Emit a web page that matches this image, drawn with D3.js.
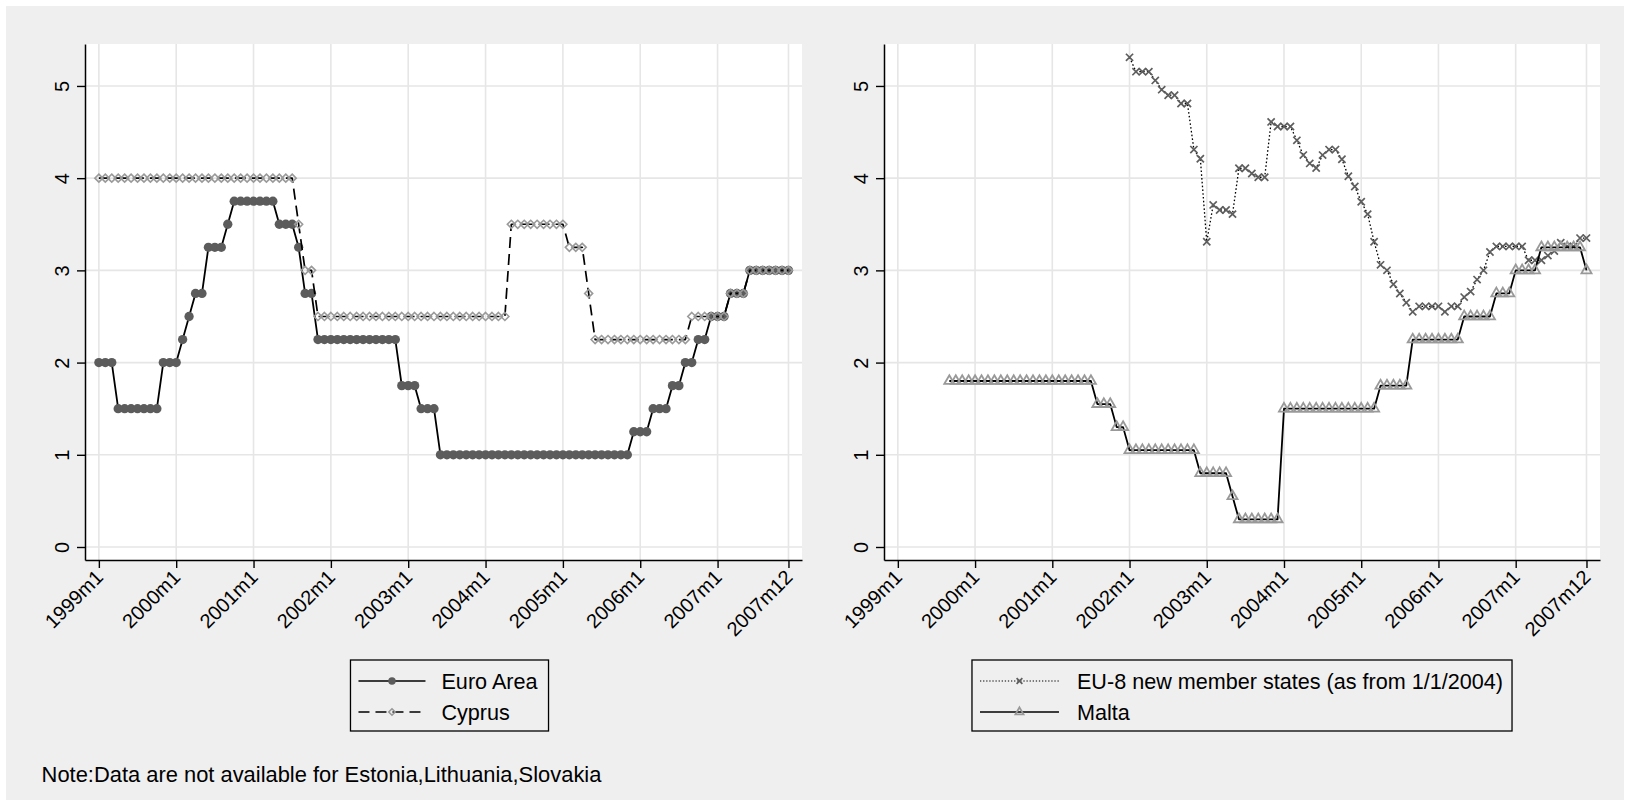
<!DOCTYPE html>
<html><head><meta charset="utf-8">
<script src="https://cdn.jsdelivr.net/npm/d3@7"></script>
<style>body{margin:0;background:#fff;} svg{display:block;font-family:"Liberation Sans",Arial,sans-serif;}</style>
</head><body><svg id="c" width="1630" height="806"></svg>
<script>
// ---------- data ----------
const tickMonths = [0,12,24,36,48,60,72,84,96,107];
const tickLabels = ["1999m1","2000m1","2001m1","2002m1","2003m1","2004m1","2005m1","2006m1","2007m1","2007m12"];
const yTicks = [0,1,2,3,4,5];

// monthly, 1999m1 .. 2007m12 (12 values per line = one year)
const euroArea = [
 2,2,2,1.5,1.5,1.5,1.5,1.5,1.5,1.5,2,2,
 2,2.25,2.5,2.75,2.75,3.25,3.25,3.25,3.5,3.75,3.75,3.75,
 3.75,3.75,3.75,3.75,3.5,3.5,3.5,3.25,2.75,2.75,2.25,2.25,
 2.25,2.25,2.25,2.25,2.25,2.25,2.25,2.25,2.25,2.25,2.25,1.75,
 1.75,1.75,1.5,1.5,1.5,1,1,1,1,1,1,1,
 1,1,1,1,1,1,1,1,1,1,1,1,
 1,1,1,1,1,1,1,1,1,1,1,1.25,
 1.25,1.25,1.5,1.5,1.5,1.75,1.75,2,2,2.25,2.25,2.5,
 2.5,2.5,2.75,2.75,2.75,3,3,3,3,3,3,3
];
const cyprus = [
 4,4,4,4,4,4,4,4,4,4,4,4,
 4,4,4,4,4,4,4,4,4,4,4,4,
 4,4,4,4,4,4,4,3.5,3,3,2.5,2.5,
 2.5,2.5,2.5,2.5,2.5,2.5,2.5,2.5,2.5,2.5,2.5,2.5,
 2.5,2.5,2.5,2.5,2.5,2.5,2.5,2.5,2.5,2.5,2.5,2.5,
 2.5,2.5,2.5,2.5,3.5,3.5,3.5,3.5,3.5,3.5,3.5,3.5,
 3.5,3.25,3.25,3.25,2.75,2.25,2.25,2.25,2.25,2.25,2.25,2.25,
 2.25,2.25,2.25,2.25,2.25,2.25,2.25,2.25,2.5,2.5,2.5,2.5,
 2.5,2.5,2.75,2.75,2.75,3,3,3,3,3,3,3
];
const eu8 = [
 null,null,null,null,null,null,null,null,null,null,null,null,
 null,null,null,null,null,null,null,null,null,null,null,null,
 null,null,null,null,null,null,null,null,null,null,null,null,
 5.31,5.155,5.155,5.155,5.06,4.96,4.9,4.9,4.81,4.81,4.31,4.21,
 3.31,3.71,3.655,3.655,3.61,4.107,4.107,4.05,4.01,4.01,4.61,4.56,
 4.56,4.56,4.41,4.25,4.16,4.11,4.25,4.31,4.31,4.205,4.02,3.91,
 3.745,3.61,3.31,3.06,3.0,2.85,2.75,2.65,2.55,2.61,2.61,2.61,
 2.61,2.55,2.61,2.61,2.71,2.77,2.9,3.0,3.2,3.26,3.26,3.26,
 3.26,3.26,3.11,3.11,3.11,3.16,3.21,3.3,3.26,3.26,3.35,3.35
];
const malta = [
 null,null,null,null,null,null,null,null,1.8,1.8,1.8,1.8,
 1.8,1.8,1.8,1.8,1.8,1.8,1.8,1.8,1.8,1.8,1.8,1.8,
 1.8,1.8,1.8,1.8,1.8,1.8,1.8,1.55,1.55,1.55,1.3,1.3,
 1.05,1.05,1.05,1.05,1.05,1.05,1.05,1.05,1.05,1.05,1.05,0.8,
 0.8,0.8,0.8,0.8,0.55,0.3,0.3,0.3,0.3,0.3,0.3,0.3,
 1.5,1.5,1.5,1.5,1.5,1.5,1.5,1.5,1.5,1.5,1.5,1.5,
 1.5,1.5,1.5,1.75,1.75,1.75,1.75,1.75,2.25,2.25,2.25,2.25,
 2.25,2.25,2.25,2.25,2.5,2.5,2.5,2.5,2.5,2.75,2.75,2.75,
 3,3,3,3,3.25,3.25,3.25,3.25,3.25,3.25,3.25,3
];
const leftNames = ["Euro Area","Cyprus"];
const rightNames = ["EU-8 new member states (as from 1/1/2004)","Malta"];
const noteText = "Note:Data are not available for Estonia,Lithuania,Slovakia";

// ---------- drawing ----------
const svg = d3.select("#c");
svg.append("rect").attr("width",1630).attr("height",806).attr("fill","#fff");
svg.append("rect").attr("x",6).attr("y",6).attr("width",1618).attr("height",794).attr("fill","#efefef");

const FONT = "'Liberation Sans', Arial, sans-serif";
const yTop = 44, yBottom = 560;
const y = d3.scaleLinear().domain([-0.141, 5.455]).range([yBottom, yTop]);

function markerPath(type, k){
  k = k || 1;
  if(type === "diamond"){ const r = 4.0*k; return `M0,${-r}L${r},0L0,${r}L${-r},0Z`; }
  if(type === "x"){ const s = 3.6*k; return `M${-s},${-s}L${s},${s}M${-s},${s}L${s},${-s}`; }
  if(type === "triangle"){ return d3.symbol(d3.symbolTriangle, 44*k*k)(); }
  return d3.symbol(d3.symbolCircle, 68*k*k)();
}
function styleMarker(sel, type){
  if(type === "circle") sel.attr("fill","#5c5c5c").attr("stroke","none");
  else if(type === "diamond") sel.attr("fill","none").attr("stroke","#9a9a9a").attr("stroke-width",1.6);
  else if(type === "x") sel.attr("fill","none").attr("stroke","#5e5e5e").attr("stroke-width",1.7);
  else sel.attr("fill","none").attr("stroke","#999").attr("stroke-width",1.8);
}

const panels = [
  {x0:85, x1:802, names:leftNames, key:{a:8, b:75, text:91, pad:11, dx:6}, series:[
    {data:euroArea, dash:null, width:1.8, marker:"circle"},
    {data:cyprus, dash:"11,6", width:1.7, marker:"diamond"}]},
  {x0:884, x1:1600, names:rightNames, key:{a:8, b:87, text:105, pad:9, dx:0}, series:[
    {data:eu8, dash:"1.6,2.2", width:1.3, marker:"x"},
    {data:malta, dash:null, width:1.8, marker:"triangle"}]}
];

panels.forEach(p => {
  const x = d3.scaleLinear().domain([-2.15, 109.1]).range([p.x0, p.x1]);
  const g = svg.append("g");
  g.append("rect").attr("x",p.x0).attr("y",yTop).attr("width",p.x1-p.x0).attr("height",yBottom-yTop).attr("fill","#fff");
  // grid
  g.selectAll(".gx").data(tickMonths).join("line")
    .attr("x1",d=>x(d)).attr("x2",d=>x(d)).attr("y1",yTop).attr("y2",yBottom)
    .attr("stroke","#e6e6e6").attr("stroke-width",1.6);
  g.selectAll(".gy").data(yTicks).join("line")
    .attr("x1",p.x0).attr("x2",p.x1).attr("y1",d=>y(d)).attr("y2",d=>y(d))
    .attr("stroke","#e6e6e6").attr("stroke-width",1.6);

  // series
  p.series.forEach(s => {
    const pts = s.data.map((v,i)=>({i, v})).filter(d=>d.v!=null);
    const line = d3.line().x(d=>x(d.i)).y(d=>y(d.v));
    const path = g.append("path").datum(pts).attr("d",line).attr("fill","none")
      .attr("stroke","#000").attr("stroke-width",s.width).attr("stroke-linejoin","round");
    if(s.dash) path.attr("stroke-dasharray",s.dash);
    const m = g.append("g").selectAll("path").data(pts).join("path")
      .attr("transform",d=>`translate(${x(d.i)},${y(d.v)})`)
      .attr("d",markerPath(s.marker));
    styleMarker(m, s.marker);
  });

  // axes
  const gx = g.append("g").attr("transform",`translate(0,${yBottom})`)
    .call(d3.axisBottom(x).tickValues(tickMonths).tickFormat((d,i)=>tickLabels[i]).tickSize(8).tickSizeOuter(0));
  gx.attr("font-family",FONT).attr("font-size",20);
  gx.select(".domain").attr("stroke","#000").attr("stroke-width",1.5);
  gx.selectAll(".tick line").attr("stroke","#000").attr("stroke-width",1.4);
  gx.selectAll(".tick text").attr("x",0).attr("y",0).attr("dy",0)
    .attr("transform","translate(5,18.5) rotate(-45)").attr("text-anchor","end").attr("fill","#000");

  const gy = g.append("g").attr("transform",`translate(${p.x0},0)`)
    .call(d3.axisLeft(y).tickValues(yTicks).tickFormat(d3.format("d")).tickSize(8).tickSizeOuter(0));
  gy.attr("font-family",FONT).attr("font-size",20);
  gy.select(".domain").attr("stroke","#000").attr("stroke-width",1.5);
  gy.selectAll(".tick line").attr("stroke","#000").attr("stroke-width",1.4);
  gy.selectAll(".tick text").attr("x",0).attr("y",0).attr("dy",0)
    .attr("transform","translate(-16,0) rotate(-90)").attr("text-anchor","middle").attr("fill","#000");

  // legend
  const K = p.key;
  const cx = (p.x0 + p.x1)/2 + K.dx;
  const lg = svg.append("g");
  const box = lg.append("rect").attr("fill","none").attr("stroke","#000").attr("stroke-width",1.3);
  const rows = [681, 712];
  let maxW = 0;
  const items = p.series.map((s,k) => {
    const t = lg.append("text").attr("font-family",FONT).attr("font-size",21.6).attr("fill","#000")
      .attr("y",rows[k]+7.6).text(p.names[k]);
    maxW = Math.max(maxW, t.node().getComputedTextLength());
    return t;
  });
  const W = K.text + maxW + K.pad;
  const left = cx - W/2;
  box.attr("x",left).attr("y",660).attr("width",W).attr("height",71);
  p.series.forEach((s,k) => {
    items[k].attr("x", left+K.text);
    const ln = lg.append("line").attr("x1",left+K.a).attr("x2",left+K.b).attr("y1",rows[k]).attr("y2",rows[k])
      .attr("stroke","#000").attr("stroke-width",s.width*0.8);
    if(s.dash) ln.attr("stroke-dasharray", s.marker==="x" ? "1.3,1.8" : "11,6");
    const mk = lg.append("path").attr("transform",`translate(${left+(K.a+K.b)/2},${rows[k]})`).attr("d",markerPath(s.marker,0.8));
    styleMarker(mk, s.marker);
  });
});

svg.append("text").attr("x",41.6).attr("y",781.5).attr("font-family",FONT).attr("font-size",21.9)
  .attr("fill","#000").text(noteText);
</script></body></html>
